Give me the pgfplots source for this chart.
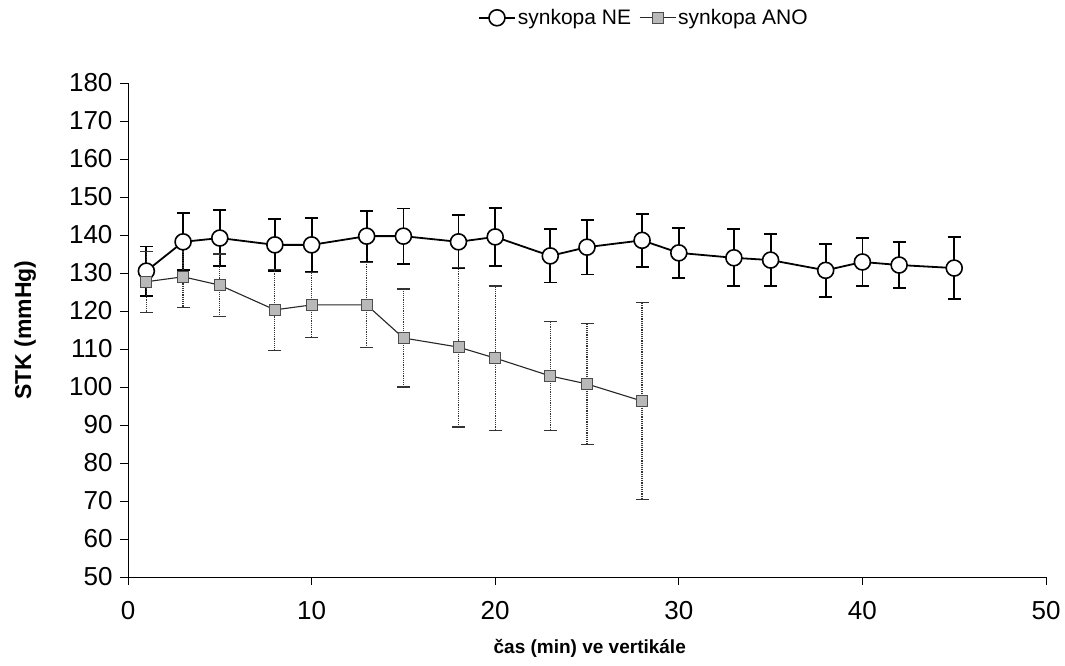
\documentclass[border=0pt]{standalone}
\usepackage{fontspec}
\setmainfont{Liberation Sans}
\usepackage{pgfplots}
\usepackage{pgfplotstable}
\pgfplotsset{compat=1.18}

\pgfplotstableread{
x y e
1 130.5 6.5
3 138.2 7.5
5 139.2 7.4
8 137.4 6.8
10 137.4 7.0
13 139.7 6.7
15 139.7 7.3
18 138.2 7.0
20 139.5 7.6
23 134.5 7.0
25 136.8 7.2
28 138.6 7.0
30 135.3 6.6
33 134.0 7.5
35 133.4 6.8
38 130.7 7.0
40 132.9 6.3
42 132.1 6.0
45 131.3 8.2
}\ne

\pgfplotstableread{
x y e
1 127.7 8.0
3 129.0 8.0
5 126.8 8.2
8 120.3 10.6
10 121.6 8.6
13 121.6 11.2
15 112.9 12.9
18 110.5 21.0
20 107.6 19.0
23 102.9 14.3
25 100.8 16.0
28 96.3 26.0
}\ano

\begin{document}
\begin{tikzpicture}
\useasboundingbox (0,0) rectangle (1065pt,665pt);
\begin{axis}[
  at={(128pt,88pt)}, anchor=south west,
  scale only axis, width=918pt, height=494pt,
  xmin=0, xmax=50, ymin=50, ymax=180,
  axis x line*=bottom, axis y line*=left,
  axis line style={-, line width=1pt},
  xtick={0,10,...,50}, ytick={50,60,...,180},
  tick align=outside, major tick length=8pt,
  tick style={black, line width=0.8pt},
  /pgf/number format/assume math mode=true,
  tick label style={font=\fontsize{26}{26}\selectfont},
  xticklabel style={yshift=-13pt},
  yticklabel style={xshift=-4pt},
  xlabel={\textbf{čas (min) ve vertikále}},
  xlabel style={at={(axis description cs:0.503,-0.144)}, anchor=center, font=\fontsize{19}{19}\selectfont},
  ylabel={\textbf{STK (mmHg)}},
  ylabel style={at={(axis description cs:-0.112,0.5)}, anchor=center, font=\fontsize{23}{23}\selectfont},
  legend style={at={(0.562,1.132)}, anchor=center, draw=none, fill=none,
    legend columns=2, font=\fontsize{21}{21}\selectfont,
    /tikz/every even column/.append style={column sep=6pt}},
  legend image code/.code={\draw[mark repeat=2, mark phase=2, #1] plot coordinates {(0pt,0pt) (18pt,0pt) (36pt,0pt)};},
]
\addplot[black, line width=1.8pt, mark=*, mark size=8pt,
  mark options={fill=white, draw=black, line width=1.6pt},
  error bars/.cd, y dir=both, y explicit,
  error bar style={black, line width=1.8pt},
  error mark options={rotate=90, mark size=6.5pt, line width=1.8pt, black}]
  table[x=x, y=y, y error=e]{\ne};
\addlegendentry{synkopa NE}
\addplot[black!85, line width=1.1pt, mark=square*, mark size=5.5pt,
  mark options={fill=gray!55, draw=black!70, line width=0.8pt, solid},
  error bars/.cd, y dir=both, y explicit,
  error bar style={black!80, line width=1.2pt, densely dotted},
  error mark options={rotate=90, mark size=6.5pt, line width=1.2pt, black!80, solid}]
  table[x=x, y=y, y error=e]{\ano};
\addlegendentry{synkopa ANO}
\end{axis}
\end{tikzpicture}
\end{document}
